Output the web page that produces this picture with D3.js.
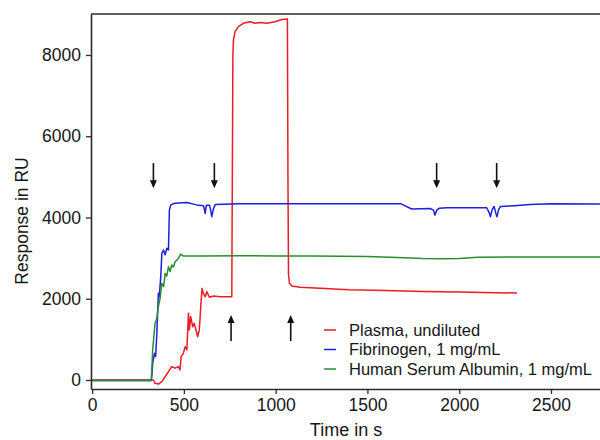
<!DOCTYPE html>
<html>
<head>
<meta charset="utf-8">
<script src="https://cdn.jsdelivr.net/npm/d3@7"></script>
<style>
  html, body { margin: 0; padding: 0; background: #fff; }
  svg { display: block; font-family: "Liberation Sans", Arial, Helvetica, sans-serif; }
</style>
</head>
<body>
<svg id="chart" width="600" height="440"></svg>
<script>
// ---------- data ----------
const xTicks = [0, 500, 1000, 1500, 2000, 2500];
const yTicks = [0, 2000, 4000, 6000, 8000];

const seriesNames = ["Plasma, undiluted", "Fibrinogen, 1 mg/mL", "Human Serum Albumin, 1 mg/mL"];
const seriesColors = ["#ec1c24", "#1f1fe0", "#2a8c2e"];

const plasmaT = [0, 330, 334, 343, 361, 380, 398, 416, 434, 452, 470, 479, 485, 497, 507, 516, 525, 530, 537, 548, 556, 566, 575, 584, 592, 599, 606, 616, 625, 639, 661, 697, 761, 764, 767, 770, 779, 797, 824, 861, 888, 915, 951, 997, 1033, 1064, 1067, 1070, 1075, 1088, 1133, 1242, 1400, 1600, 1800, 2000, 2200, 2315];
const plasmaV = [0, 0, 0, -82, -100, -40, 80, 205, 330, 290, 330, 245, 575, 655, 820, 740, 1640, 1230, 1560, 1310, 1395, 1230, 1065, 1230, 1805, 2255, 2130, 2050, 2175, 2035, 2065, 2050, 2050, 5000, 8000, 8370, 8575, 8700, 8780, 8820, 8780, 8800, 8780, 8820, 8875, 8885, 5000, 2600, 2380, 2315, 2280, 2255, 2220, 2200, 2180, 2165, 2150, 2140];

const fibT = [0, 322, 325, 330, 340, 346, 352, 361, 366, 374, 380, 389, 398, 407, 416, 421, 429, 450, 516, 570, 606, 612, 616, 622, 640, 645, 652, 660, 671, 800, 1000, 1200, 1500, 1680, 1741, 1841, 1860, 1868, 1878, 1892, 1932, 2150, 2165, 2170, 2180, 2190, 2200, 2206, 2215, 2225, 2300, 2386, 2500, 2780];
const fibV = [-10, -10, 80, 410, 655, 575, 1065, 2135, 2050, 2545, 3115, 3200, 3080, 3240, 3200, 4185, 4310, 4350, 4370, 4310, 4290, 4200, 4100, 4300, 4300, 4200, 4020, 4200, 4320, 4340, 4340, 4340, 4340, 4340, 4210, 4220, 4180, 4060, 4180, 4230, 4240, 4240, 4100, 4020, 4200, 4270, 4100, 4020, 4200, 4270, 4290, 4320, 4340, 4330];

const hsaT = [0, 200, 322, 326, 330, 343, 352, 361, 370, 380, 390, 398, 407, 416, 425, 434, 443, 452, 462, 470, 477, 483, 497, 600, 800, 1000, 1200, 1500, 1700, 1800, 1900, 2000, 2100, 2300, 2500, 2780];
const hsaV = [-10, -15, -10, 300, 740, 1395, 1500, 1805, 2000, 2380, 2300, 2625, 2560, 2790, 2670, 2830, 2780, 2910, 2950, 2995, 3050, 3100, 3050, 3050, 3060, 3050, 3050, 3040, 3010, 2990, 2985, 2990, 3020, 3030, 3030, 3030];

// annotation arrows: time, start value, end value
const arrowDownT = [334, 666, 1877, 2204];
const arrowDownFrom = 5340, arrowDownTo = 4720;
const arrowUpT = [757, 1082];
const arrowUpFrom = 960, arrowUpTo = 1600;

// ---------- chart ----------
const svg = d3.select("#chart");
const x = d3.scaleLinear().domain([-6, 2767]).range([91, 600]);
const y = d3.scaleLinear().domain([-222, 9009]).range([389, 14]);

const axisColor = "#2b2b2b";
const textColor = "#161616";

// top border
svg.append("line")
  .attr("x1", x.range()[0]).attr("x2", x.range()[1])
  .attr("y1", y.range()[1]).attr("y2", y.range()[1])
  .attr("stroke", axisColor).attr("stroke-width", 1.6);

const xAxis = svg.append("g")
  .attr("transform", `translate(0,${y.range()[0]})`)
  .call(d3.axisBottom(x).tickValues(xTicks).tickSize(5).tickSizeOuter(0).tickPadding(5).tickFormat(d3.format("d")));
const yAxis = svg.append("g")
  .attr("transform", `translate(${x.range()[0]},0)`)
  .call(d3.axisLeft(y).tickValues(yTicks).tickSize(5).tickSizeOuter(0).tickPadding(5).tickFormat(d3.format("d")));

[xAxis, yAxis].forEach(g => {
  g.select(".domain").attr("stroke", axisColor).attr("stroke-width", 1.6);
  g.selectAll(".tick line").attr("stroke", axisColor).attr("stroke-width", 1.3);
  g.selectAll(".tick text").attr("fill", textColor).style("font-size", "17.5px");
});

// axis titles
svg.append("text")
  .attr("x", 346).attr("y", 436)
  .attr("text-anchor", "middle")
  .attr("fill", textColor).style("font-size", "18px")
  .text("Time in s");
svg.append("text")
  .attr("transform", "translate(28,221) rotate(-90)")
  .attr("text-anchor", "middle")
  .attr("fill", textColor).style("font-size", "17.5px")
  .text("Response in RU");

// series lines
const line = d3.line().x(d => x(d[0])).y(d => y(d[1]));
const series = [
  { t: plasmaT, v: plasmaV, c: seriesColors[0] },
  { t: fibT, v: fibV, c: seriesColors[1] },
  { t: hsaT, v: hsaV, c: seriesColors[2] }
];
series.forEach(s => {
  svg.append("path")
    .datum(s.t.map((t, i) => [t, s.v[i]]))
    .attr("fill", "none")
    .attr("stroke", s.c)
    .attr("stroke-width", 1.5)
    .attr("stroke-linejoin", "round")
    .attr("d", line);
});

// arrows
function arrow(t, v0, v1) {
  const ax = x(t), y0 = y(v0), y1 = y(v1);
  const dir = Math.sign(y1 - y0);
  svg.append("line")
    .attr("x1", ax).attr("x2", ax)
    .attr("y1", y0).attr("y2", y1 - dir * 5)
    .attr("stroke", "#111").attr("stroke-width", 1.6);
  svg.append("path")
    .attr("d", `M${ax - 3.5},${y1 - dir * 8} L${ax + 3.5},${y1 - dir * 8} L${ax},${y1} Z`)
    .attr("fill", "#111");
}
arrowDownT.forEach(t => arrow(t, arrowDownFrom, arrowDownTo));
arrowUpT.forEach(t => arrow(t, arrowUpFrom, arrowUpTo));

// legend
const legend = svg.append("g");
seriesNames.forEach((name, i) => {
  const ly = 330 + i * 19.5;
  legend.append("line")
    .attr("x1", 324).attr("x2", 336)
    .attr("y1", ly).attr("y2", ly)
    .attr("stroke", seriesColors[i]).attr("stroke-width", 1.5);
  legend.append("text")
    .attr("x", 349).attr("y", ly).attr("dy", "0.35em")
    .attr("fill", textColor).style("font-size", "16.5px")
    .text(name);
});
</script>
</body>
</html>
